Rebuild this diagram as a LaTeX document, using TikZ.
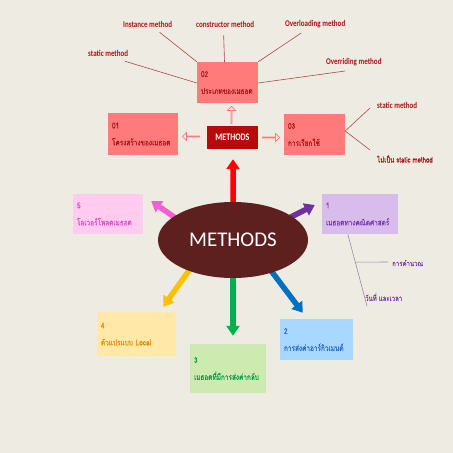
\documentclass[tikz,border=0pt]{standalone}
\usepackage{fontspec}
\setmainfont{Carlito}
\newfontfamily\thai[Script=Thai, FakeStretch=0.78, FakeBold=0.4]{Loma}
\newfontfamily\lblfont[FakeStretch=0.8]{Carlito Bold}
\usetikzlibrary{arrows.meta,shapes.geometric,shapes.arrows,calc}
\pgfdeclarelayer{back}
\pgfdeclarelayer{mid}
\pgfsetlayers{back,mid,main}
\definecolor{bgc}{HTML}{EEEBE2}
\definecolor{salmon}{HTML}{FF7B7B}
\definecolor{dred}{HTML}{A81414}
\definecolor{mbox}{HTML}{B80A0A}
\definecolor{ellc}{HTML}{5E1F1F}
\definecolor{redline}{HTML}{B04848}
\definecolor{pinkbox}{HTML}{FFCCF0}
\definecolor{pinktxt}{HTML}{E048C8}
\definecolor{pinkarr}{HTML}{F060D0}
\definecolor{lavbox}{HTML}{D8BCEC}
\definecolor{purtxt}{HTML}{7A38B0}
\definecolor{purarr}{HTML}{7030A0}
\definecolor{yelbox}{HTML}{FFE8A8}
\definecolor{yeltxt}{HTML}{E08A00}
\definecolor{yelarr}{HTML}{FFC000}
\definecolor{grnbox}{HTML}{CDEAB0}
\definecolor{grntxt}{HTML}{00A040}
\definecolor{grnarr}{HTML}{00B050}
\definecolor{blubox}{HTML}{A8D8FF}
\definecolor{blutxt}{HTML}{2068C0}
\definecolor{bluarr}{HTML}{0070C0}
\definecolor{greyline}{HTML}{9A8AAA}
\begin{document}
\begin{tikzpicture}[x=1bp,y=-1bp,
  box/.style={rectangle, inner sep=0pt, align=left, font=\thai\fontsize{8.3}{17}\selectfont},
  lbl/.style={inner sep=0pt, text=dred, font=\lblfont\fontsize{8.8}{9}\selectfont},
  thlbl/.style={inner sep=0pt, font=\thai\fontsize{7.8}{8}\selectfont},
  fat/.style={line width=5.5bp, -{Triangle[width=13bp,length=10bp]}},
  hollow/.style={single arrow, draw=salmon, fill=bgc, line width=0.7bp, minimum height=17bp, minimum width=8bp, single arrow head extend=2bp, single arrow head indent=0pt, inner sep=0pt},
  rline/.style={draw=redline, line width=0.6bp},
  gline/.style={draw=greyline, line width=0.6bp}]
\begin{pgfonlayer}{back}
\fill[bgc] (0,0) rectangle (453,453);
\end{pgfonlayer}
\useasboundingbox (0,0) rectangle (453,453);

% upper mind map
\node[box, fill=salmon, text=dred, minimum width=61bp, minimum height=41bp, text width=53bp] (b02) at (227.5,82.5) {02\\ประเภทของเมธอด};
\node[box, fill=salmon, text=dred, minimum width=70bp, minimum height=42bp, text width=62bp] (b01) at (143,134) {01\\โครงสร้างของเมธอด};
\node[box, fill=salmon, text=dred, minimum width=61bp, minimum height=41bp, text width=53bp] (b03) at (314.5,134.5) {03\\การเรียกใช้};
\node[rectangle, fill=mbox, text=white, minimum width=51bp, minimum height=23bp, inner sep=0pt, font=\lblfont\fontsize{10}{10}\selectfont] (m) at (232.5,137.5) {METHODS};

\node[hollow, rotate=90, anchor=tail] (hu) at ($(m.north)+(-1,-2)$) {};
\node[hollow, rotate=180, anchor=tail] (hl) at ($(m.west)+(-7,-1)$) {};
\node[hollow, anchor=tail] (hr) at ($(m.east)+(4,0)$) {};

\node[lbl, anchor=west] (l1) at (123,24) {Instance method};
\node[lbl, anchor=west] (l2) at (196,24) {constructor method};
\node[lbl, anchor=west] (l3) at (285,24) {Overloading method};
\node[lbl, anchor=west] (l4) at (88,53) {static method};
\node[lbl, anchor=west] (l5) at (326,62) {Overriding method};
\node[lbl, anchor=west] (l6) at (377,105) {static method};
\node[thlbl, text=dred, anchor=west] (l7) at (377,159) {ไม่เป็น static method};

\draw[rline] ($(l1.south)+(12,5)$) -- (b02.north west);
\draw[rline] ($(l2.south)+(-1.5,8)$) -- ($(b02.north)+(-3,0)$);
\draw[rline] ($(l3.south)+(-14,5)$) -- (b02.north east);
\draw[rline] ($(l4.south)+(17,5)$) -- ($(b02.west)+(0,0.5)$);
\draw[rline] ($(l5.south west)+(19,5)$) -- ($(b02.east)+(0,0.5)$);
\draw[rline] ($(l6.west)+(-7,3)$) -- ($(b03.east)+(0,-3.5)$) -- ($(l7.west)+(-7,-9)$);

% central ellipse and arrows
\node[ellipse, fill=ellc, text=white, minimum width=150bp, minimum height=76bp, inner sep=0pt, font=\fontsize{21}{22}\selectfont] (ell) at (233,240) {METHODS};

\node[box, fill=pinkbox, text=pinktxt, minimum width=70bp, minimum height=40bp, text width=62bp] (b5) at (108,214) {5\\โอเวอร์โหลดเมธอด};
\node[box, fill=lavbox, text=purtxt, minimum width=76bp, minimum height=40bp, text width=68bp] (b1) at (360,214) {1\\เมธอดทางคณิตศาสตร์};
\node[box, fill=yelbox, text=yeltxt, minimum width=79bp, minimum height=44bp, text width=71bp] (b4) at (136.5,334) {4\\ตัวแปรแบบ Local};
\node[box, fill=grnbox, text=grntxt, minimum width=76bp, minimum height=49bp, text width=68bp] (b3) at (228,368.5) {3\\เมธอดที่มีการส่งค่ากลับ};
\node[box, fill=blubox, text=blutxt, minimum width=73bp, minimum height=41bp, text width=65bp] (b2) at (316.5,339.5) {2\\การส่งค่าอาร์กิวเมนต์};

\begin{pgfonlayer}{mid}
\draw[fat, red] (ell.center) -- ($(m.south)+(0.5,10)$);
\draw[fat, pinkarr] ($(ell.center)+(-33,-5)$) -- ($(b5.east)+(8,-13)$);
\draw[fat, purarr] ($(ell.center)+(30,-9)$) -- ($(b1.west)+(-7,-9)$);
\draw[fat, yelarr] ($(ell.center)+(-38,22)$) -- ($(b4.north east)+(-13,-5)$);
\draw[fat, grnarr] ($(ell.center)+(0,20)$) -- ($(b3.north)+(5,-8)$);
\draw[fat, bluarr] ($(ell.center)+(30,20)$) -- ($(b2.north west)+(23,-6)$);
\end{pgfonlayer}

% lines from box 1
\node[thlbl, text=purtxt, anchor=west] (c1) at (392,263) {การคำนวณ};
\node[thlbl, text=purtxt, anchor=west] (c2) at (365,297) {วันที่ และเวลา};
\coordinate (ce) at (367,306);
\coordinate (s1) at ($(b1.south west)+(26,0)$);
\draw[gline] (s1) -- (ce);
\draw[gline] ($(s1)!0.39!(ce)$) -- ($(c1.west)+(-4,-1)$);
\end{tikzpicture}
\end{document}
